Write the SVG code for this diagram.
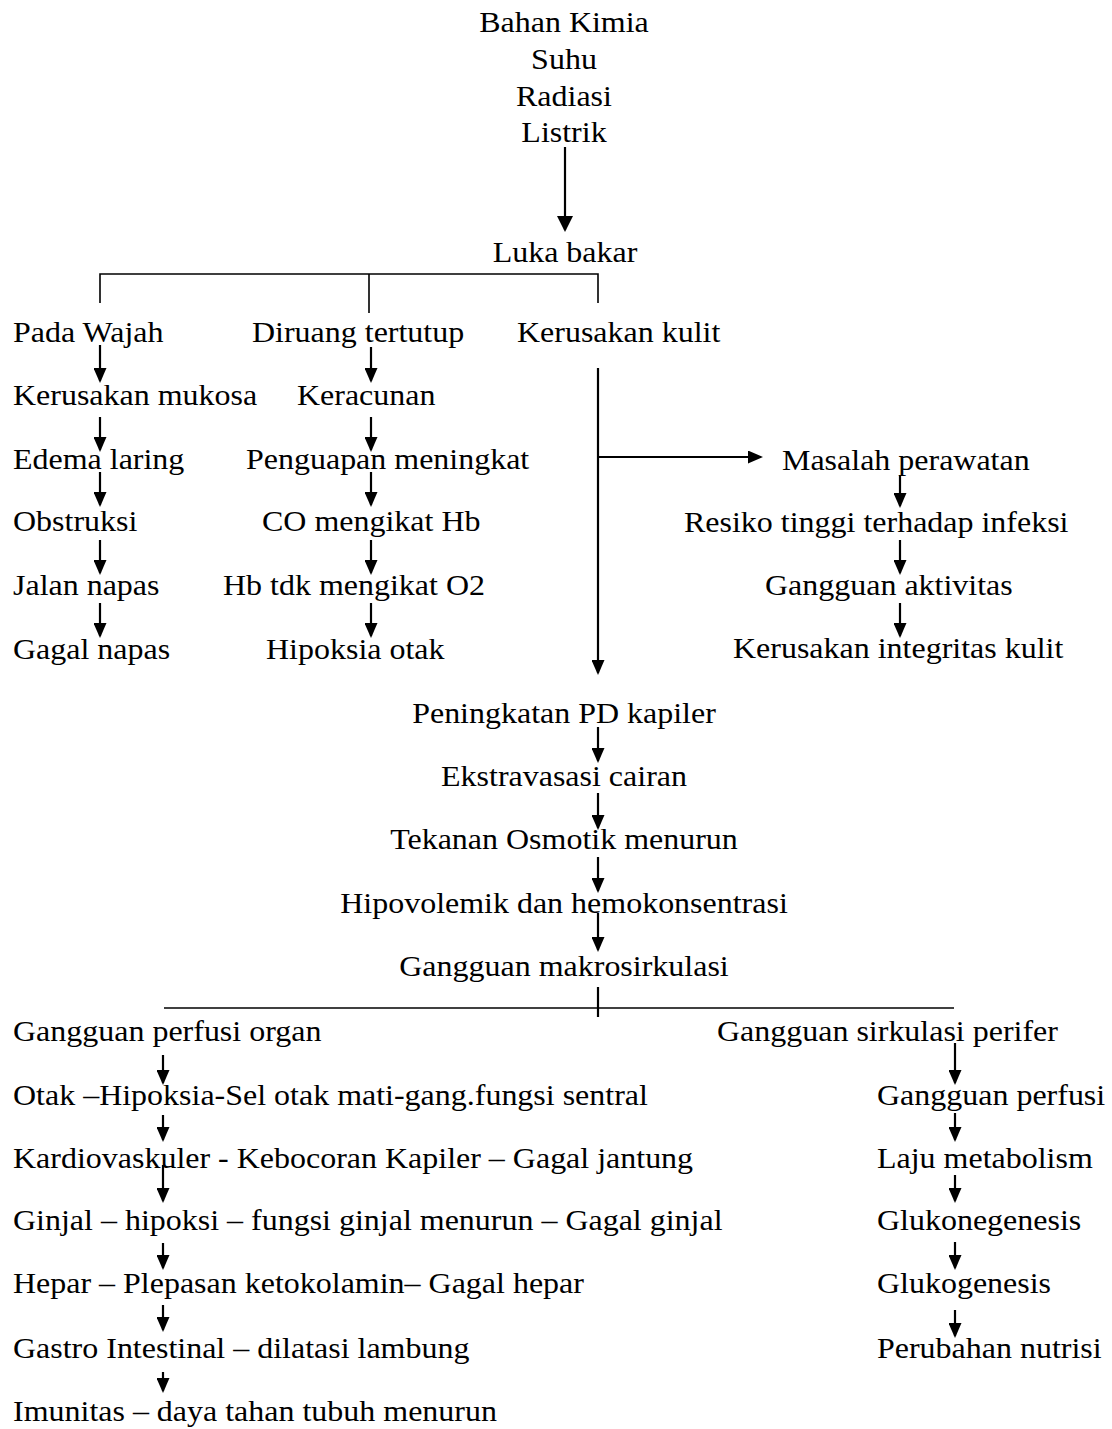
<svg xmlns="http://www.w3.org/2000/svg" width="1112" height="1429" viewBox="0 0 1112 1429">
<style>
text{font-family:"Liberation Serif","Times New Roman",serif;font-size:30px;fill:#000}
.m{text-anchor:middle}
.c line,.c path{stroke:#000;stroke-width:2.2;fill:none}
.c .br{stroke-width:1.6}
</style>
<defs>
<marker id="ah" viewBox="0 0 15 13" refX="13" refY="6.5" markerWidth="15" markerHeight="13" markerUnits="userSpaceOnUse" orient="auto"><path d="M0,0 L15,6.5 L0,13 z" fill="#000"/></marker>
<marker id="ahb" viewBox="0 0 16 16" refX="14" refY="8" markerWidth="16" markerHeight="16" markerUnits="userSpaceOnUse" orient="auto"><path d="M0,0 L16,8 L0,16 z" fill="#000"/></marker>
</defs>
<rect width="1112" height="1429" fill="#fff"/>
<g id="connectors" class="c">
<line x1="565" y1="147" x2="565" y2="230" marker-end="url(#ahb)"/>
<path class="br" d="M100,303 V274 H598 V303 M369,274 V313"/>
<line x1="100" y1="345" x2="100" y2="381" marker-end="url(#ah)"/>
<line x1="100" y1="417" x2="100" y2="450" marker-end="url(#ah)"/>
<line x1="100" y1="472" x2="100" y2="505" marker-end="url(#ah)"/>
<line x1="100" y1="540" x2="100" y2="573" marker-end="url(#ah)"/>
<line x1="100" y1="603" x2="100" y2="636" marker-end="url(#ah)"/>
<line x1="371" y1="347" x2="371" y2="381" marker-end="url(#ah)"/>
<line x1="371" y1="417" x2="371" y2="450" marker-end="url(#ah)"/>
<line x1="371" y1="472" x2="371" y2="505" marker-end="url(#ah)"/>
<line x1="371" y1="540" x2="371" y2="573" marker-end="url(#ah)"/>
<line x1="371" y1="603" x2="371" y2="636" marker-end="url(#ah)"/>
<line x1="598" y1="368" x2="598" y2="673" marker-end="url(#ah)"/>
<line x1="598" y1="457" x2="761" y2="457" marker-end="url(#ah)"/>
<line x1="900" y1="475" x2="900" y2="506" marker-end="url(#ah)"/>
<line x1="900" y1="540" x2="900" y2="573" marker-end="url(#ah)"/>
<line x1="900" y1="603" x2="900" y2="636" marker-end="url(#ah)"/>
<line x1="598" y1="727" x2="598" y2="761" marker-end="url(#ah)"/>
<line x1="598" y1="793" x2="598" y2="828" marker-end="url(#ah)"/>
<line x1="598" y1="857" x2="598" y2="891" marker-end="url(#ah)"/>
<line x1="598" y1="913" x2="598" y2="950" marker-end="url(#ah)"/>
<line x1="598" y1="987" x2="598" y2="1017"/>
<line class="br" x1="164" y1="1008" x2="954" y2="1008"/>
<line x1="163" y1="1055" x2="163" y2="1083" marker-end="url(#ah)"/>
<line x1="163" y1="1115" x2="163" y2="1140" marker-end="url(#ah)"/>
<line x1="163" y1="1165" x2="163" y2="1201" marker-end="url(#ah)"/>
<line x1="163" y1="1243" x2="163" y2="1268" marker-end="url(#ah)"/>
<line x1="163" y1="1305" x2="163" y2="1330" marker-end="url(#ah)"/>
<line x1="163" y1="1372" x2="163" y2="1391" marker-end="url(#ah)"/>
<line x1="955" y1="1043" x2="955" y2="1083" marker-end="url(#ah)"/>
<line x1="955" y1="1113" x2="955" y2="1140" marker-end="url(#ah)"/>
<line x1="955" y1="1175" x2="955" y2="1201" marker-end="url(#ah)"/>
<line x1="955" y1="1242" x2="955" y2="1268" marker-end="url(#ah)"/>
<line x1="955" y1="1310" x2="955" y2="1336" marker-end="url(#ah)"/>
</g>
<g id="n-sebab"><text class="m" transform="translate(564,32) scale(1.066,1)">Bahan Kimia</text><text class="m" transform="translate(564,69) scale(1.066,1)">Suhu</text><text class="m" transform="translate(564,106) scale(1.066,1)">Radiasi</text><text class="m" transform="translate(564,142) scale(1.066,1)">Listrik</text></g>
<g id="n-luka"><text class="m" transform="translate(565,262) scale(1.066,1)">Luka bakar</text></g>
<g id="n-wajah"><text transform="translate(13,342) scale(1.066,1)">Pada Wajah</text></g>
<g id="n-ruang"><text transform="translate(252,342) scale(1.066,1)">Diruang tertutup</text></g>
<g id="n-kulit"><text transform="translate(517,342) scale(1.066,1)">Kerusakan kulit</text></g>
<g id="n-mukosa"><text transform="translate(13,405) scale(1.066,1)">Kerusakan mukosa</text></g>
<g id="n-racun"><text transform="translate(297,405) scale(1.066,1)">Keracunan</text></g>
<g id="n-edema"><text transform="translate(13,469) scale(1.066,1)">Edema laring</text></g>
<g id="n-uap"><text transform="translate(246,469) scale(1.066,1)">Penguapan meningkat</text></g>
<g id="n-masalah"><text transform="translate(782,470) scale(1.066,1)">Masalah perawatan</text></g>
<g id="n-obstruksi"><text transform="translate(13,531) scale(1.066,1)">Obstruksi</text></g>
<g id="n-co"><text transform="translate(262,531) scale(1.066,1)">CO mengikat Hb</text></g>
<g id="n-resiko"><text transform="translate(684,532) scale(1.066,1)">Resiko tinggi terhadap infeksi</text></g>
<g id="n-jalan"><text transform="translate(13,595) scale(1.066,1)">Jalan napas</text></g>
<g id="n-hb"><text transform="translate(223,595) scale(1.066,1)">Hb tdk mengikat O2</text></g>
<g id="n-aktivitas"><text transform="translate(765,595) scale(1.066,1)">Gangguan aktivitas</text></g>
<g id="n-gagalnapas"><text transform="translate(13,659) scale(1.066,1)">Gagal napas</text></g>
<g id="n-hipoksia"><text transform="translate(266,659) scale(1.066,1)">Hipoksia otak</text></g>
<g id="n-integritas"><text transform="translate(733,658) scale(1.066,1)">Kerusakan integritas kulit</text></g>
<g id="n-pd"><text class="m" transform="translate(564,723) scale(1.066,1)">Peningkatan PD kapiler</text></g>
<g id="n-ekstra"><text class="m" transform="translate(564,786) scale(1.066,1)">Ekstravasasi cairan</text></g>
<g id="n-osmotik"><text class="m" transform="translate(564,849) scale(1.066,1)">Tekanan Osmotik menurun</text></g>
<g id="n-hipovol"><text class="m" transform="translate(564,913) scale(1.066,1)">Hipovolemik dan hemokonsentrasi</text></g>
<g id="n-makro"><text class="m" transform="translate(564,976) scale(1.066,1)">Gangguan makrosirkulasi</text></g>
<g id="n-organ"><text transform="translate(13,1041) scale(1.066,1)">Gangguan perfusi organ</text></g>
<g id="n-perifer"><text transform="translate(717,1041) scale(1.066,1)">Gangguan sirkulasi perifer</text></g>
<g id="n-otak"><text transform="translate(13,1105) scale(1.066,1)">Otak –Hipoksia-Sel otak mati-gang.fungsi sentral</text></g>
<g id="n-perfusi"><text transform="translate(877,1105) scale(1.066,1)">Gangguan perfusi</text></g>
<g id="n-kardio"><text transform="translate(13,1168) scale(1.066,1)">Kardiovaskuler - Kebocoran Kapiler – Gagal jantung</text></g>
<g id="n-laju"><text transform="translate(877,1168) scale(1.066,1)">Laju metabolism</text></g>
<g id="n-ginjal"><text transform="translate(13,1230) scale(1.066,1)">Ginjal – hipoksi – fungsi ginjal menurun – Gagal ginjal</text></g>
<g id="n-glukoneo"><text transform="translate(877,1230) scale(1.066,1)">Glukonegenesis</text></g>
<g id="n-hepar"><text transform="translate(13,1293) scale(1.066,1)">Hepar – Plepasan ketokolamin– Gagal hepar</text></g>
<g id="n-gluko"><text transform="translate(877,1293) scale(1.066,1)">Glukogenesis</text></g>
<g id="n-gastro"><text transform="translate(13,1358) scale(1.066,1)">Gastro Intestinal – dilatasi lambung</text></g>
<g id="n-nutrisi"><text transform="translate(877,1358) scale(1.066,1)">Perubahan nutrisi</text></g>
<g id="n-imun"><text transform="translate(13,1421) scale(1.066,1)">Imunitas – daya tahan tubuh menurun</text></g>
</svg>
